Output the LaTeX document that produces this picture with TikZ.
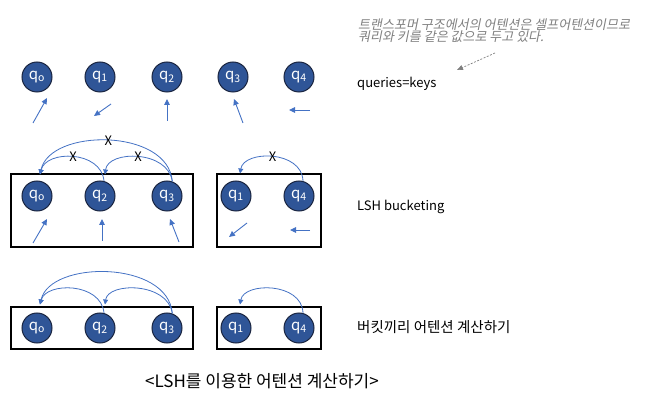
\documentclass[tikz,border=0pt]{standalone}
\usepackage{fontspec}
\setmainfont{Noto Sans CJK KR}
\newfontfamily\annotfont[FakeSlant=0.2]{Noto Sans CJK KR}
\usetikzlibrary{arrows.meta,calc}
\definecolor{qfill}{HTML}{2F5597}
\definecolor{qdraw}{HTML}{1A2540}
\definecolor{arrblue}{HTML}{4472C4}
\definecolor{notegray}{HTML}{7F7F7F}
\begin{document}
\begin{tikzpicture}[x=1pt,y=-1pt,
  qnode/.style={circle, fill=qfill, draw=qdraw, line width=1pt, minimum size=30pt, inner sep=0pt, text=white, font=\fontsize{15}{15}\selectfont},
  vec/.style={arrblue, line width=0.9pt, -{Triangle[length=6pt,width=5.5pt]}},
  attarc/.style={arrblue, line width=0.8pt, -{Triangle[length=5pt,width=5pt]}},
  bucket/.style={draw=black, line width=2.6pt, inner sep=0pt},
  lbl/.style={anchor=west, inner sep=0pt, font=\fontsize{13}{15}\selectfont},
  xmark/.style={text=black, fill=none, inner sep=0pt, font=\fontsize{13}{13}\selectfont}]
\useasboundingbox (0,0) rectangle (646,401);

% ---- annotation ----
\node[anchor=north west, inner sep=0pt, align=left, text=notegray, font=\annotfont\fontsize{13}{12}\selectfont] (note) at (358,19)
  {트랜스포머 구조에서의 어텐션은 셀프어텐션이므로\\쿼리와 키를 같은 값으로 두고 있다.};
\coordinate (nstart) at (495,53);
\coordinate (nend) at (457,70);
\draw[notegray, line width=0.7pt, dashed, dash pattern=on 2pt off 1.5pt, -{Triangle[length=6pt,width=5pt]}] (nstart) -- (nend);

% ---- top row ----
\node[qnode] (t0) at (37,77) {q\textsubscript{o}};
\node[qnode] (t1) at (100,77) {q\textsubscript{1}};
\node[qnode] (t2) at (167,77) {q\textsubscript{2}};
\node[qnode] (t3) at (233,77) {q\textsubscript{3}};
\node[qnode] (t4) at (299,77) {q\textsubscript{4}};
\coordinate (ta0) at (33,123); \coordinate (tb0) at (47,98);
\coordinate (ta1) at (111,104); \coordinate (tb1) at (94,116);
\coordinate (ta2) at (167,121); \coordinate (tb2) at (167,99);
\coordinate (ta3) at (243,123); \coordinate (tb3) at (234,99);
\coordinate (ta4) at (310,110); \coordinate (tb4) at (289,110);
\foreach \i in {0,...,4} {\draw[vec] (ta\i) -- (tb\i);}
\node[lbl] (lq) at (357,84) {queries=keys};

% ---- middle row ----
\node[bucket, minimum width=182pt, minimum height=73pt] (mbox1) at (102,210.5) {};
\node[bucket, minimum width=104pt, minimum height=73pt] (mbox2) at (269,210.5) {};
\node[qnode] (m0) at (37,196) {q\textsubscript{o}};
\node[qnode] (m2) at (100,196) {q\textsubscript{2}};
\node[qnode] (m3) at (167,196) {q\textsubscript{3}};
\node[qnode] (m1) at (236,196) {q\textsubscript{1}};
\node[qnode] (m4) at (299,196) {q\textsubscript{4}};
\coordinate (ma0) at (33,243); \coordinate (mb0) at (47,219);
\coordinate (ma2) at (102,241); \coordinate (mb2) at (102,219);
\coordinate (ma3) at (179,242); \coordinate (mb3) at (170,219);
\coordinate (ma1) at (247,223); \coordinate (mb1) at (229,237);
\coordinate (ma4) at (310,230); \coordinate (mb4) at (290,230);
\foreach \i in {0,...,4} {\draw[vec] (ma\i) -- (mb\i);}
\draw[attarc] (m3.70) .. controls (168,128) and (50,128) .. ($(m0.north)+(3,-6)$) node[xmark, pos=0.5] (x1) {X};
\draw[attarc] (m2.75) .. controls (101,150) and (46,150) .. ($(m0.north)+(3,-6)$) node[xmark, pos=0.5] (x2) {X};
\draw[attarc] (m3.70) .. controls (168,150) and (108,150) .. ($(m2.north)+(5,-6)$) node[xmark, pos=0.5] (x3) {X};
\draw[attarc] (m4.75) .. controls (302,150) and (244,150) .. ($(m1.north)+(4,-7)$) node[xmark, pos=0.5] (x4) {X};
\node[lbl] (lb) at (357,207) {LSH bucketing};

% ---- bottom row ----
\node[bucket, minimum width=182pt, minimum height=42pt] (bbox1) at (102,328) {};
\node[bucket, minimum width=104pt, minimum height=42pt] (bbox2) at (269,328) {};
\node[qnode] (b0) at (37,328) {q\textsubscript{o}};
\node[qnode] (b2) at (100,328) {q\textsubscript{2}};
\node[qnode] (b3) at (167,328) {q\textsubscript{3}};
\node[qnode] (b1) at (236,328) {q\textsubscript{1}};
\node[qnode] (b4) at (299,328) {q\textsubscript{4}};
\draw[attarc] (b3.70) .. controls (168,260) and (50,260) .. ($(b0.north)+(3,-8)$);
\draw[attarc] (b2.75) .. controls (101,282) and (46,282) .. ($(b0.north)+(3,-8)$);
\draw[attarc] (b3.70) .. controls (168,282) and (108,282) .. ($(b2.north)+(5,-8)$);
\draw[attarc] (b4.75) .. controls (302,282) and (244,282) .. ($(b1.north)+(4,-8)$);
\node[lbl, font=\fontsize{14.5}{16}\selectfont] (lc) at (357,327) {버킷끼리 어텐션 계산하기};

% ---- title ----
\node[inner sep=0pt, font=\fontsize{17}{17}\selectfont] (title) at (262,381) {<LSH를 이용한 어텐션 계산하기>};
\end{tikzpicture}
\end{document}
